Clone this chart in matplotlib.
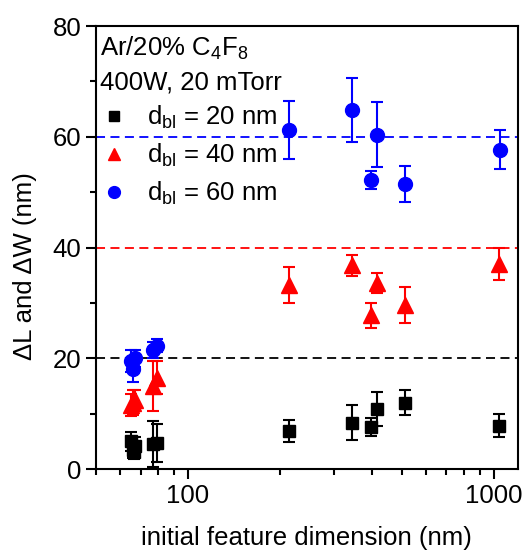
import matplotlib
matplotlib.use('Agg')
import matplotlib.pyplot as plt
from matplotlib.ticker import FixedLocator, NullFormatter

plt.rcParams['font.family'] = ['Liberation Sans', 'DejaVu Sans']
plt.rcParams['mathtext.default'] = 'regular'

# d_bl = 20 nm
x_20 = [65, 66, 67, 66.5, 77, 79, 214, 344, 397, 414, 512, 1041]
y_20 = [5.0, 3.5, 4.2, 3.0, 4.5, 4.7, 6.9, 8.4, 7.6, 10.8, 12.0, 7.8]
e_20 = [1.7, 1.5, 1.5, 1.2, 4.2, 3.5, 2.0, 3.2, 1.7, 3.1, 2.2, 2.1]

# d_bl = 40 nm
x_40 = [65, 66, 67, 77, 79, 214, 344, 398, 416, 512, 1041]
y_40 = [11.5, 12.0, 12.5, 15.0, 16.5, 33.2, 36.8, 27.8, 33.6, 29.6, 37.1]
e_40 = [2.0, 2.2, 1.8, 4.5, 3.0, 3.3, 1.9, 2.25, 1.75, 3.2, 2.9]

# d_bl = 60 nm
x_60 = [65, 66, 67, 77, 79, 214, 344, 397, 416, 512, 1046]
y_60 = [19.5, 18.0, 20.0, 21.5, 22.3, 61.2, 64.9, 52.2, 60.4, 51.5, 57.7]
e_60 = [2.0, 2.2, 1.5, 1.5, 1.2, 5.3, 5.8, 1.6, 5.8, 3.3, 3.6]

d_bl = [20, 40, 60]
fs = 18.5

fig = plt.figure(figsize=(5.23, 5.54), dpi=100)
ax = fig.add_axes([0.1836, 0.1534, 0.8064, 0.7996])

series = [
    (x_20, y_20, e_20, 's', 'black', 9),
    (x_40, y_40, e_40, '^', 'red', 11),
    (x_60, y_60, e_60, 'o', 'blue', 10),
]
handles = []
for (xs, ys, es, m, c, ms), d in zip(series, d_bl):
    ax.errorbar(xs, ys, yerr=es, fmt=m, color=c, ms=ms, capsize=4.5,
                elinewidth=1.5, capthick=1.5)
    ax.axhline(d, color=c, ls=(0, (5, 3)), lw=1.3)
    h, = ax.plot([], [], m, color=c, ms=ms * 0.85, label='d$_{bl}$ = %d nm' % d)
    handles.append(h)

ax.set_xscale('log')
ax.set_xlim(50, 1200)
ax.set_ylim(0, 80)
ax.set_xticks([100, 1000])
ax.set_xticklabels(['100', '1000'])
ax.xaxis.set_minor_locator(FixedLocator([50, 60, 70, 80, 90, 200, 300, 400, 500, 600, 700, 800, 900]))
ax.xaxis.set_minor_formatter(NullFormatter())
ax.set_yticks([0, 20, 40, 60, 80])
ax.yaxis.set_minor_locator(FixedLocator([10, 30, 50, 70]))

ax.tick_params(which='major', direction='out', length=7, width=1.5, labelsize=fs)
ax.tick_params(which='minor', direction='out', length=4, width=1.5)
for s in ax.spines.values():
    s.set_linewidth(1.5)

ax.set_xlabel('initial feature dimension (nm)', fontsize=fs, labelpad=13)
ax.set_ylabel('ΔL and ΔW (nm)', fontsize=fs)
ax.yaxis.set_label_coords(-0.14, 0.458)

ax.text(0.01, 0.98, 'Ar/20% C$_4$F$_8$', transform=ax.transAxes, fontsize=fs, va='top')
ax.text(0.01, 0.9, '400W, 20 mTorr', transform=ax.transAxes, fontsize=fs, va='top')
ax.legend(handles=handles, loc='upper left', bbox_to_anchor=(-0.013, 0.848), frameon=False,
          fontsize=fs, handlelength=1.0, handletextpad=0.8, labelspacing=0.42,
          borderaxespad=0)

fig.savefig('out.png', dpi=100)
